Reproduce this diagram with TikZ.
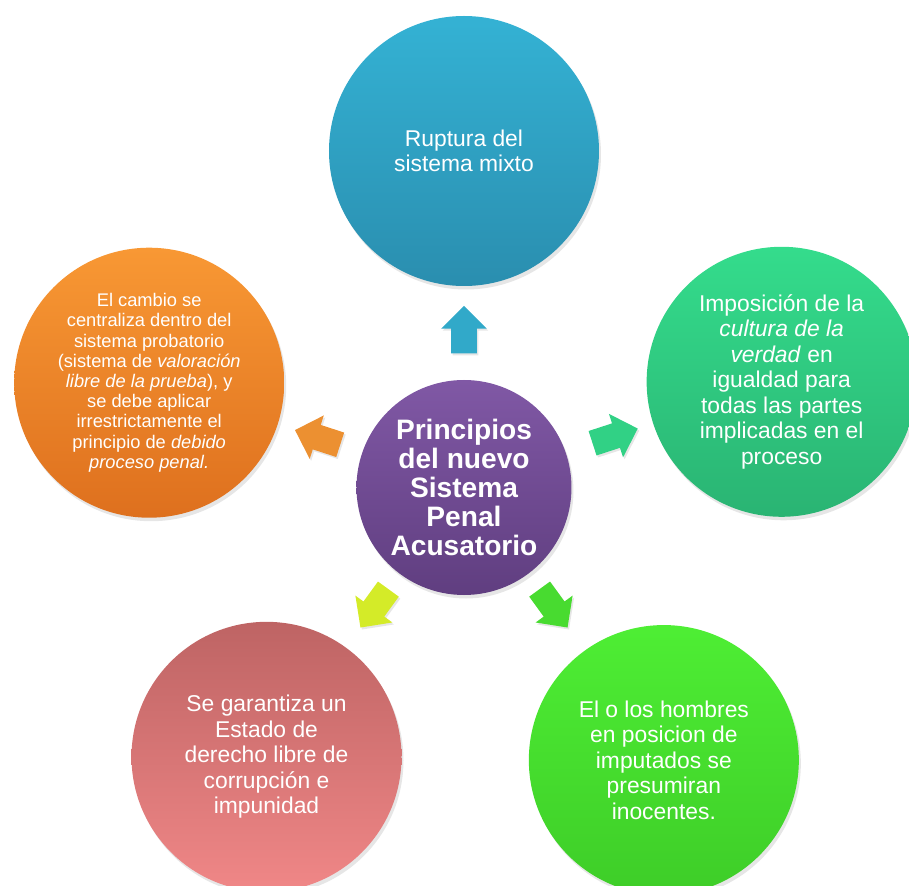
\documentclass[tikz,border=0pt]{standalone}
\usepackage{fontspec}
\setmainfont{Liberation Sans}
\usepackage{tikz}
\usetikzlibrary{shapes.arrows}
\usetikzlibrary{shadows}

\definecolor{azulA}{RGB}{52,178,212}
\definecolor{azulB}{RGB}{42,142,175}
\definecolor{menta}{RGB}{52,220,140}
\definecolor{mentaB}{RGB}{42,180,115}
\definecolor{verde}{RGB}{78,238,52}
\definecolor{verdeB}{RGB}{62,205,40}
\definecolor{rosa}{RGB}{190,100,100}
\definecolor{rosaB}{RGB}{240,135,135}
\definecolor{naranja}{RGB}{248,152,52}
\definecolor{naranjaB}{RGB}{222,112,30}
\definecolor{morado}{RGB}{128,88,165}
\definecolor{moradoB}{RGB}{96,62,128}
\definecolor{amarillo}{RGB}{212,235,40}

\begin{document}
\begin{tikzpicture}[
  bola/.style={circle,minimum size=5.4cm,inner sep=0pt,text=white,align=center,
    font=\fontsize{13}{14.5}\selectfont,
    drop shadow={opacity=0.2,shadow xshift=0.04cm,shadow yshift=-0.07cm}},
  flecha/.style={single arrow,minimum height=0.95cm,inner sep=0.25cm,
    single arrow head extend=0.2cm,
    drop shadow={opacity=0.2,shadow xshift=0.03cm,shadow yshift=-0.04cm}}
]
\useasboundingbox (-9.28,-8.02) rectangle (8.9,9.7);

% circulo central
\node[bola,minimum size=4.3cm,top color=morado,bottom color=moradoB,
  font=\fontsize{16}{16.5}\selectfont\bfseries] (centro) at (0,-0.05)
  {Principios\\del nuevo\\Sistema\\Penal\\Acusatorio};

% circulos alrededor
\node[bola,top color=azulA,bottom color=azulB] (ruptura) at (90:6.68)
  {Ruptura del\\sistema mixto};
\node[bola,top color=menta,bottom color=mentaB] (verdad) at (18:6.68)
  {Imposición de la\\\textit{cultura de la}\\\textit{verdad} en\\igualdad para\\todas las partes\\implicadas en el\\proceso};
\node[bola,top color=verde,bottom color=verdeB] (inocentes) at (-54:6.8)
  {El o los hombres\\en posicion de\\imputados se\\presumiran\\inocentes.};
\node[bola,top color=rosa,bottom color=rosaB] (estado) at (-126:6.72)
  {Se garantiza un\\Estado de\\derecho libre de\\corrupción e\\impunidad};
\node[bola,top color=naranja,bottom color=naranjaB,
  font=\fontsize{10.4}{11.5}\selectfont] (cambio) at (162:6.62)
  {El cambio se\\centraliza dentro del\\sistema probatorio\\(sistema de \textit{valoración}\\\textit{libre de la prueba}), y\\se debe aplicar\\irrestrictamente el\\principio de \textit{debido}\\\textit{proceso penal.}};

% flechas
\node[flecha,rotate=90,fill=azulA!95!black] (f1) at (90:2.98) {};
\node[flecha,rotate=18,fill=menta!95!black] (f2) at (18:3.05) {};
\node[flecha,rotate=-54,fill=verde!92!black] (f3) at (-54:2.92) {};
\node[flecha,rotate=-126,fill=amarillo] (f4) at (-126:2.92) {};
\node[flecha,rotate=162,fill=naranja!95!black] (f5) at (162:2.95) {};
\end{tikzpicture}
\end{document}
